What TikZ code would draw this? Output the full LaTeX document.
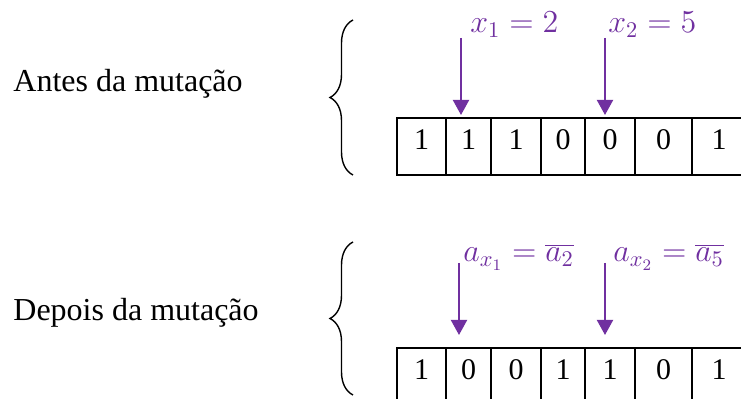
\documentclass[tikz,border=0pt]{standalone}
\usepackage{fix-cm}
\usepackage{fontspec}
\setmainfont{Liberation Serif}
\usetikzlibrary{arrows.meta,decorations.pathreplacing}
\definecolor{roxo}{HTML}{7030A0}
\begin{document}
\begin{tikzpicture}[x=0.5pt,y=-0.5pt,
    celula/.style={draw, line width=1pt, inner sep=0pt, outer sep=0pt, minimum height=28.5pt, text height=10pt, text depth=6.5pt, font=\fontsize{15}{18}\selectfont},
    seta/.style={roxo, line width=1pt, -{Triangle[length=7.5pt,width=8pt]}},
    chave/.style={decorate, decoration={brace, amplitude=11.5pt}, line width=0.7pt},
    rotulo/.style={anchor=base west, inner sep=0pt, font=\fontsize{16}{19}\selectfont},
    formula/.style={anchor=base west, inner sep=0pt, text=roxo, font=\fontsize{16}{19}\selectfont}]
  \clip (0,0) rectangle (741,399);
  % antes da mutacao
  \node[rotulo] (antes) at (13,91.7) {Antes da mutação};
  \draw[chave] (353,175) -- (353,20);
  \foreach \l/\r/\d [count=\i] in {397/446/1, 446/491/1, 491/541/1, 541/585/0, 585/635/0, 635/692/0, 692/746/1}
    \node[celula, minimum width=(\r-\l)*0.5pt] (t\i) at ({(\l+\r)/2},146.5) {\d};
  \coordinate (p1) at (461,38);
  \coordinate (p2) at (605,38);
  \draw[seta, shorten >=1.5pt] (p1) -- (p1 |- t2.north);
  \draw[seta, shorten >=1.5pt] (p2) -- (p2 |- t5.north);
  \node[formula] (x1) at (470,33) {$x_1 = 2$};
  \node[formula] (x2) at (608,33) {$x_2 = 5$};
  % depois da mutacao
  \node[rotulo] (depois) at (13,321) {Depois da mutação};
  \draw[chave] (353,395) -- (353,242);
  \foreach \l/\r/\d [count=\i] in {397/446/1, 446/491/0, 491/541/0, 541/585/1, 585/635/1, 635/692/0, 692/746/1}
    \node[celula, minimum width=(\r-\l)*0.5pt] (b\i) at ({(\l+\r)/2},376.5) {\d};
  \coordinate (q1) at (459,263);
  \coordinate (q2) at (605,263);
  \draw[seta, shorten >=6.5pt] (q1) -- (q1 |- b2.north);
  \draw[seta, shorten >=6.5pt] (q2) -- (q2 |- b5.north);
  \node[formula] (ax1) at (463,262) {$a_{x_1} = \overline{a_2}$};
  \node[formula] (ax2) at (613,262) {$a_{x_2} = \overline{a_5}$};
\end{tikzpicture}
\end{document}
